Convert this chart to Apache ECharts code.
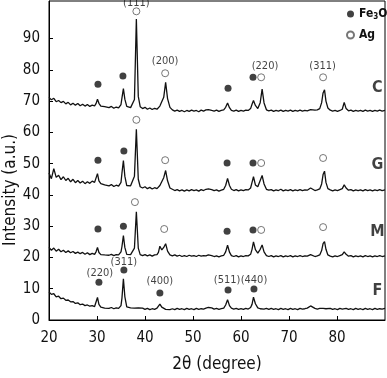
<!DOCTYPE html>
<html>
<head>
<meta charset="utf-8">
<script src="https://cdn.jsdelivr.net/npm/echarts@6/dist/echarts.min.js"></script>
<style>
  html, body { margin: 0; padding: 0; background: #fff; }
  #chart { width: 387px; height: 378px; }
</style>
</head>
<body>
<div id="chart"></div>
<script>
// 2theta positions shared by all four patterns
const twoTheta = [
  20, 20.5, 21, 21.5, 22, 22.5, 23, 23.5, 24, 24.5, 25, 25.5, 26, 26.5, 27, 27.5, 28, 28.5, 29, 29.5,
  29.8, 30.1, 30.4, 30.8, 31.2, 31.6,
  32, 32.5, 33, 33.5, 34, 34.5, 35,
  35.2, 35.5, 35.8, 36.2, 36.6, 37, 37.4, 37.8, 38.2, 38.6, 39,
  39.5, 40, 40.5, 41, 41.5, 42, 42.5,
  42.8, 43.1, 43.5, 43.9, 44.3, 44.7, 45.2,
  45.7, 46.2, 46.7, 47.2, 47.7, 48.2, 48.7, 49.2, 49.7, 50.2, 50.7, 51.2, 51.7, 52.2, 52.7,
  53.2, 53.5, 53.9, 54.4, 54.9, 55.4, 55.9, 56.4,
  56.8, 57.2, 57.6, 58, 58.5, 59, 59.5, 60, 60.5, 61, 61.5, 62,
  62.3, 62.6, 63, 63.5, 64, 64.4, 64.8, 65.3,
  65.8, 66.3, 66.8, 67.3, 67.8, 68.3, 68.8, 69.3, 69.8, 70.3, 70.8, 71.3, 71.8, 72.3, 72.8, 73.3, 73.8,
  74.2, 74.5, 74.9, 75.4, 75.9, 76.4,
  76.8, 77.1, 77.4, 77.7, 78.1, 78.6, 79.1, 79.6, 80.1, 80.6, 81.1,
  81.5, 81.9, 82.4, 82.9, 83.4, 83.9, 84.4, 84.9, 85.4, 85.9, 86.4, 86.9, 87.4, 87.9, 88.4, 88.9, 89.4, 90
]

const seriesC = [
  71.2, 70.4, 70.9, 69.8, 70.2, 69.5, 69.9, 69.1, 69.6, 68.8, 69.3, 68.7, 69.2, 68.5, 69.0, 68.4, 68.9, 68.3, 68.7, 68.5,
  69.2, 70.6, 69.3, 68.4, 68.7, 68.2,
  68.5, 67.9, 68.3, 67.7, 68.1, 67.8, 68.9,
  71.0, 74.0, 70.6, 68.3, 67.7, 67.9, 67.5, 70.5, 96.2, 71.5, 68.2,
  67.6, 68.0, 67.4, 67.8, 67.3, 67.7, 67.4,
  67.8, 68.4, 68.6, 71.2, 76.0, 70.8, 68.0,
  67.2, 66.8, 67.1, 66.7, 67.0, 66.6, 67.0, 66.7, 67.1, 66.8, 67.0, 66.6, 67.1, 66.8, 67.2,
  67.3, 67.6, 67.0, 66.8, 67.1, 66.7, 67.0, 67.2,
  68.0, 69.4, 67.9, 67.0, 66.8, 67.1, 66.7, 67.0, 66.8, 67.1, 67.0, 67.6,
  69.0, 70.2, 68.6, 67.6, 69.5, 73.8, 69.4, 67.2,
  66.9, 67.1, 66.7, 67.0, 66.8, 67.1, 66.7, 67.0, 66.8, 67.1, 66.7, 67.0, 66.8, 67.1, 66.8, 67.0, 66.9,
  67.1, 67.3, 66.9, 67.1, 67.2, 67.6,
  69.5, 72.6, 73.6, 70.0, 67.8, 67.1, 66.8, 67.0, 66.7, 67.0, 67.4,
  69.6, 67.6, 66.9, 67.1, 66.7, 67.0, 66.8, 67.0, 66.7, 67.1, 66.8, 67.0, 66.7, 67.0, 66.8, 67.1, 66.8, 67.0
]

const seriesG = [
  47.0, 45.2, 48.4, 45.6, 46.3, 44.9, 45.8, 44.6, 45.3, 44.2, 45.0, 43.9, 44.6, 43.8, 44.4, 43.6, 44.2, 43.7, 44.4, 44.0,
  44.6, 46.8, 44.5, 43.6, 43.9, 43.2,
  43.6, 42.9, 43.3, 42.7, 43.1, 42.8, 44.0,
  47.0, 51.0, 46.0, 43.0, 42.6, 42.9, 42.4, 46.0, 61.0, 45.0, 42.6,
  42.2, 42.6, 42.0, 42.4, 41.9, 42.3, 42.0,
  42.4, 43.0, 43.5, 45.5, 47.8, 44.5, 42.2,
  41.8, 41.4, 41.7, 41.3, 41.6, 41.2, 41.6, 41.3, 41.7, 41.4, 41.6, 41.2, 41.7, 41.4, 41.8,
  41.9, 42.5, 41.7, 41.4, 41.6, 41.2, 41.5, 41.8,
  43.0, 45.3, 43.0, 41.8, 41.4, 41.7, 41.3, 41.6, 41.4, 41.7, 41.6, 42.2,
  44.0, 45.8, 43.2, 42.6, 44.6, 46.2, 43.5, 41.8,
  41.5, 41.7, 41.3, 41.6, 41.4, 41.8, 41.3, 41.6, 41.4, 41.7, 41.3, 41.6, 41.4, 41.7, 41.4, 41.6, 41.5,
  41.8, 42.2, 41.7, 41.4, 41.6, 41.9,
  43.5, 46.5, 47.6, 44.0, 42.0, 41.6, 41.3, 41.6, 41.4, 41.7, 42.0,
  43.2, 42.2, 41.5, 41.7, 41.3, 41.6, 41.4, 41.6, 41.3, 41.7, 41.4, 41.6, 41.3, 41.6, 41.4, 41.7, 41.4, 41.6
]

const seriesM = [
  23.2, 22.3, 23.0, 22.0, 22.6, 21.8, 22.3, 21.6, 22.1, 21.5, 21.9, 21.3, 21.7, 21.2, 21.6, 21.0, 21.5, 20.9, 21.3, 21.0,
  21.8, 23.2, 21.6, 20.9, 21.2, 20.8,
  21.1, 20.7, 21.0, 20.6, 20.9, 20.8, 21.8,
  23.5, 27.0, 23.2, 21.0, 20.7, 20.9, 20.6, 23.0, 34.6, 23.0, 20.9,
  20.6, 20.9, 20.5, 20.8, 20.4, 20.8, 20.9,
  21.6, 23.6, 22.4, 23.2, 24.4, 22.0, 20.8,
  20.5, 20.8, 20.4, 20.7, 20.3, 20.6, 20.3, 20.7, 20.4, 20.6, 20.3, 20.7, 20.4, 20.6, 20.5,
  20.8, 21.3, 20.6, 20.3, 20.5, 20.2, 20.5, 20.7,
  21.8, 23.9, 21.7, 20.6, 20.3, 20.6, 20.2, 20.5, 20.3, 20.6, 20.5, 21.0,
  22.6, 25.0, 22.5, 21.4, 22.6, 24.0, 21.8, 20.6,
  20.3, 20.6, 20.2, 20.5, 20.3, 20.6, 20.2, 20.5, 20.3, 20.6, 20.2, 20.5, 20.3, 20.6, 20.3, 20.5, 20.4,
  20.6, 20.9, 20.5, 20.3, 20.5, 20.8,
  22.2, 24.4, 25.1, 22.6, 20.8, 20.4, 20.2, 20.5, 20.3, 20.6, 20.9,
  21.8, 21.0, 20.4, 20.6, 20.2, 20.5, 20.3, 20.5, 20.2, 20.6, 20.3, 20.5, 20.2, 20.5, 20.3, 20.6, 20.3, 20.5
]

const seriesF = [
  9.0, 8.2, 8.4, 7.4, 7.6, 6.8, 7.0, 6.3, 6.4, 5.8, 5.9, 5.3, 5.5, 4.9, 5.1, 4.6, 4.8, 4.4, 4.6, 4.3,
  4.9, 7.2, 5.0, 4.1, 4.3, 3.8,
  4.1, 3.7, 4.0, 3.6, 3.9, 3.7, 4.6,
  7.0, 13.2, 7.5, 4.2, 3.7, 3.9, 3.5, 3.8, 3.6, 3.9, 3.5,
  3.8, 3.4, 3.7, 3.3, 3.6, 3.4, 3.8,
  4.3, 5.1, 4.1, 3.6, 3.4, 3.7, 3.3,
  3.6, 3.3, 3.7, 3.4, 3.6, 3.3, 3.7, 3.4, 3.6, 3.3, 3.7, 3.4, 3.6, 3.5, 3.8,
  4.0, 4.5, 3.9, 3.5, 3.7, 3.4, 3.6, 3.8,
  4.8, 6.5, 4.6, 3.8, 3.5, 3.7, 3.4, 3.6, 3.4, 3.7, 3.5, 4.0,
  5.0, 7.3, 5.2, 3.9, 3.6, 3.8, 3.5, 3.7,
  3.4, 3.7, 3.4, 3.6, 3.3, 3.7, 3.4, 3.6, 3.3, 3.7, 3.4, 3.6, 3.3, 3.7, 3.5, 3.6, 3.8,
  4.1, 4.5, 4.1, 3.7, 3.5, 3.7,
  3.4, 3.7, 3.4, 3.6, 3.3, 3.7, 3.4, 3.6, 3.3, 3.7, 3.5,
  3.4, 3.7, 3.4, 3.6, 3.3, 3.7, 3.4, 3.6, 3.3, 3.7, 3.4, 3.6, 3.3, 3.7, 3.4, 3.6, 3.5, 3.7
]

// peak markers [2theta, intensity]
const fe3o4Marks = [
  [30.2, 75.4], [35.4, 78.0], [57.3, 74.1], [62.5, 77.6],
  [30.2, 51.1], [35.6, 54.0], [57.1, 50.2], [62.5, 50.2],
  [30.2, 29.1], [35.5, 30.0], [57.1, 28.4], [62.5, 28.8],
  [30.4, 12.1], [35.6, 16.0], [43.1, 8.6], [57.3, 9.6], [62.7, 9.9]
]
const agMarks = [
  [38.2, 98.7], [44.2, 78.9], [64.2, 77.6], [77.1, 77.6],
  [38.2, 64.0], [44.2, 51.1], [64.2, 50.2], [77.1, 51.8],
  [37.9, 37.7], [44.0, 29.1], [64.2, 28.8], [77.1, 29.7]
]
const hklLabels = [
  ['(111)', 38.2, 101.3], ['(200)', 44.2, 82.7], ['(220)', 65.0, 81.2], ['(311)', 77.0, 81.2],
  ['(220)', 30.6, 15.0], ['(311)', 35.6, 18.5], ['(400)', 43.1, 12.5], ['(511)', 57.1, 12.6], ['(440)', 62.7, 12.6]
]
const sampleLabels = [['C', 88.4, 74.1], ['G', 88.4, 49.5], ['M', 88.4, 28.1], ['F', 88.4, 9.3]]

const xTicks = [20, 30, 40, 50, 60, 70, 80]
const yTicks = [0, 10, 20, 30, 40, 50, 60, 70, 80, 90]

const patterns = [seriesC, seriesG, seriesM, seriesF]
patterns.forEach(p => {
  if (p.length !== twoTheta.length) throw new Error('length mismatch ' + p.length + ' vs ' + twoTheta.length)
})

const numFont = "'Liberation Sans Narrow', 'DejaVu Sans Condensed', 'Liberation Sans', sans-serif"
const chart = echarts.init(document.getElementById('chart'))

const lineSeries = patterns.map(p => ({
  type: 'line',
  data: twoTheta.map((x, i) => [x, p[i]]),
  showSymbol: false,
  silent: true,
  lineStyle: { color: '#111', width: 1.3 },
  z: 2
}))

const textSeries = (items, style) => ({
  type: 'scatter',
  symbolSize: 0,
  silent: true,
  data: items.map(d => ({ name: d[0], value: [d[1], d[2]] })),
  label: Object.assign({ show: true, position: 'inside', formatter: '{b}', color: '#111' }, style),
  z: 4
})

chart.setOption({
  animation: false,
  grid: { left: 49, right: 2, top: 1, bottom: 56, show: true, borderColor: '#000', borderWidth: 1 },
  legend: {
    orient: 'vertical',
    left: 346,
    top: 8,
    padding: 0,
    itemWidth: 7,
    itemHeight: 7,
    itemGap: 8,
    icon: 'circle',
    data: ['Fe3O4', 'Ag'],
    formatter: name => (name === 'Fe3O4' ? '{b|Fe}{s|3}{b|O}{s|4}' : '{b|Ag}'),
    textStyle: {
      rich: {
        b: { fontSize: 12, fontWeight: 'bold', color: '#111', fontFamily: numFont },
        s: { fontSize: 8, fontWeight: 'bold', color: '#111', fontFamily: numFont, padding: [6, 0, 0, 0] }
      }
    }
  },
  xAxis: {
    type: 'value',
    min: 20,
    max: 90,
    interval: 10,
    name: '2θ (degree)',
    nameLocation: 'middle',
    nameGap: 36,
    nameTextStyle: { fontSize: 17, color: '#111', fontFamily: numFont },
    axisLine: { lineStyle: { color: '#000', width: 1 } },
    axisTick: { inside: true, length: 4, customValues: xTicks, lineStyle: { color: '#000' } },
    axisLabel: { customValues: xTicks, margin: 11, fontSize: 15, color: '#111', fontFamily: numFont },
    splitLine: { show: false }
  },
  yAxis: {
    type: 'value',
    min: 0,
    max: 102,
    axisLine: { show: true, lineStyle: { color: '#000', width: 1 } },
    axisTick: { show: true, inside: true, length: 4, customValues: yTicks, lineStyle: { color: '#000' } },
    axisLabel: { customValues: yTicks, margin: 9, fontSize: 15, color: '#111', fontFamily: numFont },
    splitLine: { show: false }
  },
  graphic: [{
    type: 'text',
    x: 11,
    y: 190,
    rotation: Math.PI / 2,
    style: {
      text: 'Intensity (a.u.)',
      fontSize: 17,
      fontFamily: numFont,
      fill: '#111',
      textAlign: 'center',
      textVerticalAlign: 'middle'
    }
  }],
  series: lineSeries.concat([
    {
      name: 'Fe3O4',
      type: 'scatter',
      silent: true,
      symbol: 'circle',
      symbolSize: 7,
      data: fe3o4Marks,
      itemStyle: { color: '#111' },
      z: 3
    },
    {
      name: 'Ag',
      type: 'scatter',
      silent: true,
      symbol: 'circle',
      symbolSize: 7,
      data: agMarks,
      itemStyle: { color: '#fff', borderColor: '#555', borderWidth: 1 },
      z: 3
    },
    textSeries(hklLabels, { fontSize: 11, fontFamily: numFont }),
    textSeries(sampleLabels, { fontSize: 16, fontWeight: 'bold', fontFamily: numFont })
  ])
})
</script>
</body>
</html>
